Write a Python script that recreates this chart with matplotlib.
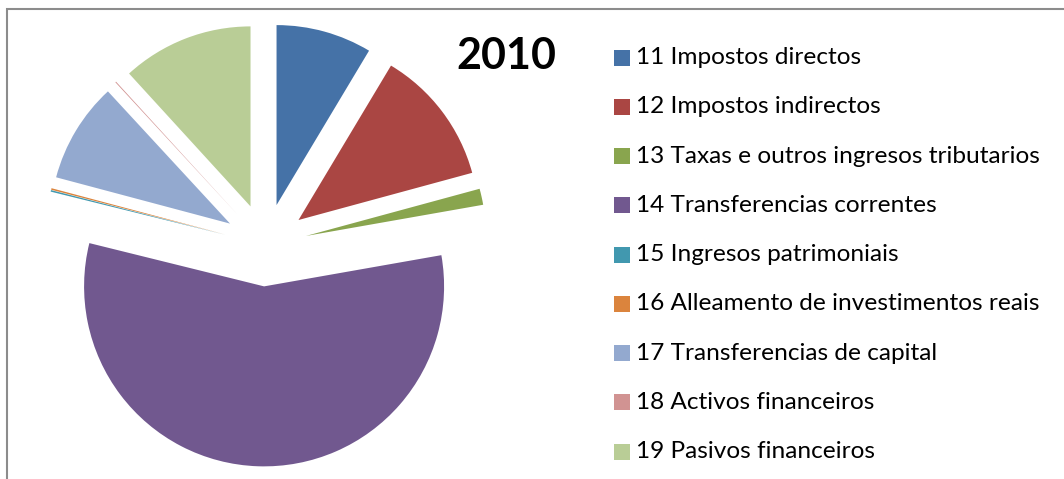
import matplotlib.pyplot as plt
from matplotlib.patches import Rectangle

labels = ['11 Impostos directos', '12 Impostos indirectos',
          '13 Taxas e outros ingresos tributarios', '14 Transferencias correntes',
          '15 Ingresos patrimoniais', '16 Alleamento de investimentos reais',
          '17 Transferencias de capital', '18 Activos financeiros',
          '19 Pasivos financeiros']
# shares in percent
shares = [8.6, 12.2, 1.45, 56.7, 0.14, 0.14, 9.0, 0.08, 11.8]
colors = ['#4572A7', '#AA4643', '#89A54E', '#71588F', '#4198AF',
          '#DB843D', '#93A9CF', '#D19392', '#B9CD96']
year = '2010'

W, H = 1064, 479
R = 180
fig = plt.figure(figsize=(W / 100, H / 100), dpi=100)
ax = fig.add_axes([0, 0, 1, 1])

# explode is in data units here, since the radius is given in pixels
ax.pie(shares, colors=colors, startangle=90, counterclock=False,
       explode=[0.23 * R] * len(shares), radius=R, center=(265.5, H - 245),
       wedgeprops=dict(linewidth=0), frame=True)
ax.set_xlim(0, W)
ax.set_ylim(0, H)
ax.set_aspect('equal')
ax.axis('off')

# chart border (cut off at right and bottom)
ax.add_patch(Rectangle((7, -20), W + 20, H - 9 + 20, fill=False,
                       edgecolor='#8c8c8c', linewidth=1.5))

ax.text(506, H - 56, year, fontsize=31, fontweight='bold',
        family='Lato', ha='center', va='center')

# legend
y0, step = 57.7, 49.25
for i, (lab, c) in enumerate(zip(labels, colors)):
    y = H - (y0 + i * step)
    ax.add_patch(Rectangle((614, y - 8), 16, 16, facecolor=c, edgecolor='none'))
    ax.text(636, y, lab, fontsize=17.6, family='Lato', va='center', ha='left')

fig.savefig('out.png', dpi=100)
